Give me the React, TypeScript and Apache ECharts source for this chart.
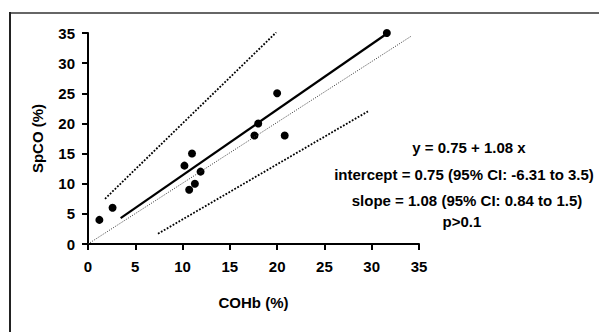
import React, { useEffect, useRef } from "react";
import * as echarts from "echarts";

const cohb = [1.2, 2.6, 10.2, 11.0, 10.7, 11.3, 11.9, 17.6, 18.0, 20.0, 20.8, 31.6];
const spco = [4, 6, 13, 15, 9, 10, 12, 18, 20, 25, 18, 35];

const fitX = [3.45, 31.7];
const fitY = [4.3, 35];
const upperX = [1.8, 19.9];
const upperY = [7.5, 35.1];
const lowerX = [7.4, 29.6];
const lowerY = [1.7, 22.0];
const identX = [0, 34.2];
const identY = [0, 34.5];

const xTicks = [0, 5, 10, 15, 20, 25, 30, 35];
const yTicks = [0, 5, 10, 15, 20, 25, 30, 35];

const statLines = [
  "y = 0.75 + 1.08 x",
  "intercept = 0.75 (95% CI: -6.31 to 3.5)",
  "slope = 1.08 (95% CI: 0.84 to 1.5)",
  "p>0.1",
];

const FONT = "'Liberation Sans', Arial, sans-serif";

function pairs(xs: number[], ys: number[]) {
  return xs.map((x, i) => [x, ys[i]]);
}

export default function App() {
  const ref = useRef<HTMLDivElement>(null);
  useEffect(() => {
    document.body.style.margin = "0";
    const chart = echarts.init(ref.current!, undefined, { renderer: "svg" });
    const textPos = [
      [469, 147],
      [464, 174],
      [467, 200],
      [462, 221],
    ];
    const labelStyle = {
      fontFamily: FONT,
      fontWeight: "bold",
      fontSize: 15,
      color: "#000",
    };
    chart.setOption({
      animation: false,
      backgroundColor: "#fff",
      textStyle: { fontFamily: FONT, fontWeight: "bold", fontSize: 15, color: "#000" },
      grid: { left: 88, right: 180, top: 33, bottom: 88 },
      xAxis: {
        type: "value",
        min: xTicks[0],
        max: xTicks[xTicks.length - 1],
        interval: 5,
        name: "COHb (%)",
        nameLocation: "middle",
        nameGap: 51,
        nameTextStyle: { ...labelStyle },
        axisLine: { onZero: false, lineStyle: { color: "#000", width: 2 } },
        axisTick: { show: true, length: 6, lineStyle: { color: "#000", width: 2 } },
        axisLabel: {
          ...labelStyle,
          margin: 15,
          formatter: (v: number) => "{b|" + v + "}",
          rich: { b: { ...labelStyle } },
        },
        splitLine: { show: false },
      },
      yAxis: {
        type: "value",
        min: yTicks[0],
        max: yTicks[yTicks.length - 1],
        interval: 5,
        name: "SpCO (%)",
        nameLocation: "middle",
        nameGap: 43,
        nameRotate: 90,
        nameTextStyle: { ...labelStyle },
        axisLine: { onZero: false, lineStyle: { color: "#000", width: 2 } },
        axisTick: { show: true, length: 6, lineStyle: { color: "#000", width: 2 } },
        axisLabel: {
          ...labelStyle,
          margin: 13,
          formatter: (v: number) => "{b|" + v + "}",
          rich: { b: { ...labelStyle } },
        },
        splitLine: { show: false },
      },
      series: [
        {
          type: "line",
          data: pairs(identX, identY),
          symbol: "none",
          lineStyle: { color: "#333", width: 1, type: [1, 1.5] },
          silent: true,
        },
        {
          type: "line",
          data: pairs(upperX, upperY),
          symbol: "none",
          lineStyle: { color: "#000", width: 1.8, type: [1.8, 1.6] },
          silent: true,
        },
        {
          type: "line",
          data: pairs(lowerX, lowerY),
          symbol: "none",
          lineStyle: { color: "#000", width: 1.8, type: [1.8, 1.6] },
          silent: true,
        },
        {
          type: "line",
          data: pairs(fitX, fitY),
          symbol: "none",
          lineStyle: { color: "#000", width: 2.2 },
          silent: true,
        },
        {
          type: "scatter",
          data: pairs(cohb, spco),
          symbol: "circle",
          symbolSize: 8,
          itemStyle: { color: "#000", opacity: 1 },
        },
      ],
      graphic: [
        {
          type: "line",
          shape: { x1: 9, y1: 13, x2: 599, y2: 13 },
          style: { stroke: "#666", lineWidth: 2 },
        },
        {
          type: "line",
          shape: { x1: 10, y1: 12, x2: 10, y2: 332 },
          style: { stroke: "#222", lineWidth: 2 },
        },
        ...statLines.map((t, i) => ({
          type: "text",
          x: textPos[i][0],
          y: textPos[i][1],
          style: {
            text: t,
            fontFamily: FONT,
            fontWeight: "bold",
            fontSize: 15,
            fill: "#000",
            textAlign: "center",
            textVerticalAlign: "middle",
          },
        })),
      ],
    });
    return () => chart.dispose();
  }, []);
  return (
    <div
      ref={ref}
      style={{ position: "absolute", left: 0, top: 0, width: 599, height: 332 }}
    />
  );
}
